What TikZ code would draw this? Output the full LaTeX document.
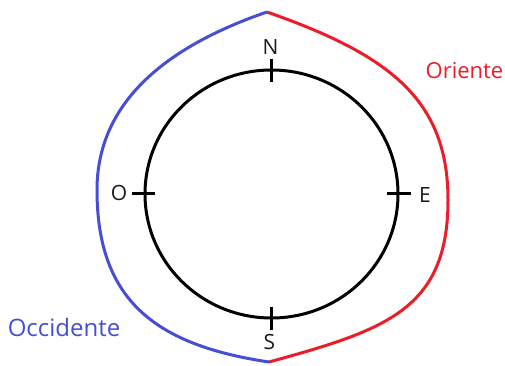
\documentclass[tikz,border=0pt]{standalone}
\usepackage{fontspec}
\setmainfont{Open Sans}
\definecolor{westblue}{RGB}{70,78,212}
\definecolor{eastred}{RGB}{236,28,40}
\definecolor{ink}{RGB}{25,25,25}
\tikzset{
  side/.style={line width=3pt, line join=round},
  dial/.style={line width=3pt, draw=black},
  tick/.style={line width=2.6pt, draw=black},
  cardinal/.style={font=\fontsize{21}{24}\selectfont, text=ink, inner sep=0pt},
  region/.style={inner sep=0pt},
}
\begin{document}
\begin{tikzpicture}[x=1pt,y=-1pt]
\useasboundingbox (0,0) rectangle (505,365);
% outer boundary
\coordinate (top) at (267,12);
\coordinate (bot) at (269,362);
\coordinate (west) at (97,190);
\coordinate (east) at (448,200);
\draw[side, westblue] (top) .. controls (165,47) and (97,103) .. (west)
  .. controls (97,300) and (155,345) .. (bot);
\draw[side, eastred] (top) .. controls (390,55) and (448,100) .. (east)
  .. controls (448,310) and (385,330) .. (bot);
% dial
\coordinate (c) at (271.5,194);
\draw[dial] (c) ellipse [x radius=126.5, y radius=124];
\coordinate (n1) at (271.5,59); \coordinate (n2) at (271.5,82);
\coordinate (s1) at (271.5,307); \coordinate (s2) at (271.5,330);
\coordinate (w1) at (132,193.5); \coordinate (w2) at (155,193.5);
\coordinate (e1) at (387,193.5); \coordinate (e2) at (411,193.5);
\draw[tick] (n1) -- (n2);
\draw[tick] (s1) -- (s2);
\draw[tick] (w1) -- (w2);
\draw[tick] (e1) -- (e2);
% labels
\node[cardinal] (N) at (270.5,47) {N};
\node[cardinal] (S) at (269.5,342) {S};
\node[cardinal] (O) at (119,193) {O};
\node[cardinal] (E) at (425,195) {E};
\node[region, text=eastred, font=\fontsize{22}{26}\selectfont] (Or) at (464.5,71) {Oriente};
\node[region, text=westblue, font=\fontsize{24}{28}\selectfont] (Oc) at (64,327) {Occidente};
\end{tikzpicture}
\end{document}
